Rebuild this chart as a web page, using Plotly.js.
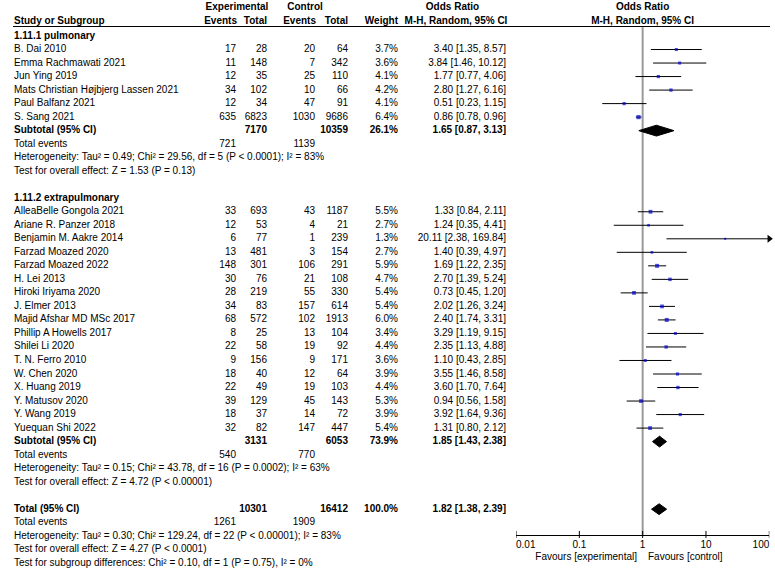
<!DOCTYPE html>
<html><head><meta charset="utf-8">
<script src="https://cdn.plot.ly/plotly-3.0.1.min.js"></script>
<style>html,body{margin:0;padding:0;background:#fff}#chart{width:775px;height:577px}</style>
</head><body><div id="chart"></div>
<script>
// ---------------- data ----------------
const groupTitles = ["1.11.1 pulmonary", "1.11.2 extrapulmonary"];

const studies1 = ["B. Dai 2010", "Emma Rachmawati 2021", "Jun Ying 2019",
  "Mats Christian Højbjerg Lassen 2021", "Paul Balfanz 2021", "S. Sang 2021"];
const expEvents1 = [17, 11, 12, 34, 12, 635];
const expTotal1 = [28, 148, 35, 102, 34, 6823];
const ctrlEvents1 = [20, 7, 25, 10, 47, 1030];
const ctrlTotal1 = [64, 342, 110, 66, 91, 9686];
const weight1 = [3.7, 3.6, 4.1, 4.2, 4.1, 6.4];
const or1 = [3.40, 3.84, 1.77, 2.80, 0.51, 0.86];
const lo1 = [1.35, 1.46, 0.77, 1.27, 0.23, 0.78];
const hi1 = [8.57, 10.12, 4.06, 6.16, 1.15, 0.96];

const studies2 = ["AlleaBelle Gongola 2021", "Ariane R. Panzer 2018", "Benjamin M. Aakre 2014",
  "Farzad Moazed 2020", "Farzad Moazed 2022", "H. Lei 2013", "Hiroki Iriyama 2020",
  "J. Elmer 2013", "Majid Afshar MD MSc 2017", "Phillip A Howells 2017", "Shilei Li 2020",
  "T. N. Ferro 2010", "W. Chen 2020", "X. Huang 2019", "Y. Matusov 2020", "Y. Wang 2019",
  "Yuequan Shi 2022"];
const expEvents2 = [33, 12, 6, 13, 148, 30, 28, 34, 68, 8, 22, 9, 18, 22, 39, 18, 32];
const expTotal2 = [693, 53, 77, 481, 301, 76, 219, 83, 572, 25, 58, 156, 40, 49, 129, 37, 82];
const ctrlEvents2 = [43, 4, 1, 3, 106, 21, 55, 157, 102, 13, 19, 9, 12, 19, 45, 14, 147];
const ctrlTotal2 = [1187, 21, 239, 154, 291, 108, 330, 614, 1913, 104, 92, 171, 64, 103, 143, 72, 447];
const weight2 = [5.5, 2.7, 1.3, 2.7, 5.9, 4.7, 5.4, 5.4, 6.0, 3.4, 4.4, 3.6, 3.9, 4.4, 5.3, 3.9, 5.4];
const or2 = [1.33, 1.24, 20.11, 1.40, 1.69, 2.70, 0.73, 2.02, 2.40, 3.29, 2.35, 1.10, 3.55, 3.60, 0.94, 3.92, 1.31];
const lo2 = [0.84, 0.35, 2.38, 0.39, 1.22, 1.39, 0.45, 1.26, 1.74, 1.19, 1.13, 0.43, 1.46, 1.70, 0.56, 1.64, 0.80];
const hi2 = [2.11, 4.41, 169.84, 4.97, 2.35, 5.24, 1.20, 3.24, 3.31, 9.15, 4.88, 2.85, 8.58, 7.64, 1.58, 9.36, 2.12];

// subtotal rows: [pulmonary, extrapulmonary]
const subExpTotal = [7170, 3131];
const subCtrlTotal = [10359, 6053];
const subWeight = [26.1, 73.9];
const subOR = [1.65, 1.85];
const subLo = [0.87, 1.43];
const subHi = [3.13, 2.38];
const subExpEvents = [721, 540];
const subCtrlEvents = [1139, 770];
const subHetero = [
  "Heterogeneity: Tau² = 0.49; Chi² = 29.56, df = 5 (P &lt; 0.0001); I² = 83%",
  "Heterogeneity: Tau² = 0.15; Chi² = 43.78, df = 16 (P = 0.0002); I² = 63%"];
const subTest = ["Test for overall effect: Z = 1.53 (P = 0.13)",
  "Test for overall effect: Z = 4.72 (P &lt; 0.00001)"];

// overall
const totExpTotal = 10301, totCtrlTotal = 16412, totWeight = 100.0;
const totOR = 1.82, totLo = 1.38, totHi = 2.39;
const totExpEvents = 1261, totCtrlEvents = 1909;
const totHetero = "Heterogeneity: Tau² = 0.30; Chi² = 129.24, df = 22 (P &lt; 0.00001); I² = 83%";
const totTest = "Test for overall effect: Z = 4.27 (P &lt; 0.0001)";
const subgroupTest = "Test for subgroup differences: Chi² = 0.10, df = 1 (P = 0.75), I² = 0%";

const tickVals = [0.01, 0.1, 1, 10, 100];
const tickText = ["0.01", "0.1", "1", "10", "100"];
const favourLeft = "Favours [experimental]";
const favourRight = "Favours [control]";

// ---------------- layout constants ----------------
const W = 775, H = 577;
const ROW0 = 36, ROWH = 13.52;
const yTop = -ROW0 / ROWH, yBot = (H - ROW0) / ROWH;
const FONT = "Liberation Sans, Arial, Helvetica, sans-serif";
const FS = 10;
const COLX = {study: 14, expEv: 236, expTot: 267, ctrlEv: 315, ctrlTot: 348, weight: 398, or: 506};
const AXIS_ROW = (535 - ROW0) / ROWH;
const RULE_ROW = (26.5 - ROW0) / ROWH;
const HDR1_ROW = (7.5 - ROW0) / ROWH, HDR2_ROW = (21 - ROW0) / ROWH;
const fx0 = 516, fx1 = 769.3;

// ---------------- build rows ----------------
const cols = {study: [], expEv: [], expTot: [], ctrlEv: [], ctrlTot: [], weight: [], or: []};
function put(col, r, t) { cols[col].push({y: r, t: String(t)}); }
const b = s => "<b>" + s + "</b>";
const f2 = v => v.toFixed(2);
const ciText = (o, l, h) => `${f2(o)} [${f2(l)}, ${f2(h)}]`;

const pts = [];
const diamonds = [];

const groups = [
  {names: studies1, ee: expEvents1, et: expTotal1, ce: ctrlEvents1, ct: ctrlTotal1, w: weight1, o: or1, l: lo1, h: hi1},
  {names: studies2, ee: expEvents2, et: expTotal2, ce: ctrlEvents2, ct: ctrlTotal2, w: weight2, o: or2, l: lo2, h: hi2}
];
let r = 0;
groups.forEach((g, gi) => {
  put("study", r, b(groupTitles[gi])); r++;
  g.names.forEach((n, i) => {
    put("study", r, n); put("expEv", r, g.ee[i]); put("expTot", r, g.et[i]);
    put("ctrlEv", r, g.ce[i]); put("ctrlTot", r, g.ct[i]);
    put("weight", r, g.w[i].toFixed(1) + "%"); put("or", r, ciText(g.o[i], g.l[i], g.h[i]));
    pts.push({r: r, o: g.o[i], l: g.l[i], h: g.h[i], w: g.w[i]});
    r++;
  });
  put("study", r, b("Subtotal (95% CI)")); put("expTot", r, b(subExpTotal[gi]));
  put("ctrlTot", r, b(subCtrlTotal[gi])); put("weight", r, b(subWeight[gi].toFixed(1) + "%"));
  put("or", r, b(ciText(subOR[gi], subLo[gi], subHi[gi])));
  diamonds.push({r: r, o: subOR[gi], l: subLo[gi], h: subHi[gi]}); r++;
  put("study", r, "Total events"); put("expEv", r, subExpEvents[gi]); put("ctrlEv", r, subCtrlEvents[gi]); r++;
  put("study", r, subHetero[gi]); r++;
  put("study", r, subTest[gi]); r++;
  r++;
});
put("study", r, b("Total (95% CI)")); put("expTot", r, b(totExpTotal)); put("ctrlTot", r, b(totCtrlTotal));
put("weight", r, b(totWeight.toFixed(1) + "%")); put("or", r, b(ciText(totOR, totLo, totHi)));
diamonds.push({r: r, o: totOR, l: totLo, h: totHi}); r++;
put("study", r, "Total events"); put("expEv", r, totExpEvents); put("ctrlEv", r, totCtrlEvents); r++;
put("study", r, totHetero); r++;
put("study", r, totTest); r++;
put("study", r, subgroupTest); r++;

// ---------------- traces ----------------
const txtFont = {family: FONT, size: FS, color: "#000"};
const traces = [];
function textTrace(xs, ys, ts, pos, xa) {
  return {type: "scatter", mode: "text", x: xs, y: ys, text: ts, textposition: pos,
    textfont: txtFont, xaxis: xa || "x", yaxis: "y", hoverinfo: "skip", showlegend: false, cliponaxis: false};
}
Object.keys(cols).forEach(k => {
  const c = cols[k];
  traces.push(textTrace(c.map(() => COLX[k]), c.map(d => d.y), c.map(d => d.t),
    k === "study" ? "middle right" : "middle left"));
});

// headers
const hdr1 = [{x: 237, t: "Experimental"}, {x: 305, t: "Control"}, {x: 452.5, t: "Odds Ratio"}, {x: 642.6, t: "Odds Ratio"}];
traces.push(textTrace(hdr1.map(d => d.x), hdr1.map(() => HDR1_ROW), hdr1.map(d => b(d.t)), "middle center"));
const hdr2c = [{x: 456, t: "M-H, Random, 95% CI"}, {x: 642.6, t: "M-H, Random, 95% CI"}];
traces.push(textTrace(hdr2c.map(d => d.x), hdr2c.map(() => HDR2_ROW), hdr2c.map(d => b(d.t)), "middle center"));
const hdr2r = [{x: 237, t: "Events"}, {x: 267, t: "Total"}, {x: 316, t: "Events"}, {x: 348, t: "Total"}, {x: 398, t: "Weight"}];
traces.push(textTrace(hdr2r.map(d => d.x), hdr2r.map(() => HDR2_ROW), hdr2r.map(d => b(d.t)), "middle left"));
traces.push(textTrace([COLX.study], [HDR2_ROW], [b("Study or Subgroup")], "middle right"));

// line of no effect
traces.push({type: "scatter", mode: "lines", x: [1, 1], y: [RULE_ROW, AXIS_ROW], xaxis: "x2", yaxis: "y",
  line: {color: "#9a9a9a", width: 2}, hoverinfo: "skip", showlegend: false});

// CI lines
const cx = [], cy = [];
pts.forEach(p => { cx.push(p.l, p.h, null); cy.push(p.r, p.r, null); });
traces.push({type: "scatter", mode: "lines", x: cx, y: cy, xaxis: "x2", yaxis: "y",
  line: {color: "#000", width: 1}, hoverinfo: "skip", showlegend: false});

// arrows for CIs beyond the axis
const axMax = Math.pow(10, 2);
const arR = pts.filter(p => p.h > axMax);
traces.push({type: "scatter", mode: "markers", x: arR.map(() => axMax), y: arR.map(p => p.r), xaxis: "x2", yaxis: "y",
  marker: {symbol: "triangle-right", size: 7, color: "#000"}, cliponaxis: false, hoverinfo: "skip", showlegend: false});

// study boxes
traces.push({type: "scatter", mode: "markers", x: pts.map(p => p.o), y: pts.map(p => p.r), xaxis: "x2", yaxis: "y",
  marker: {symbol: "square", size: pts.map(p => 1.6 + 0.4 * p.w), color: "#0000d0", line: {width: 0}},
  hoverinfo: "skip", showlegend: false});

// diamonds
diamonds.forEach(d => {
  const hh = 0.4;
  traces.push({type: "scatter", mode: "lines", x: [d.l, d.o, d.h, d.o, d.l], y: [d.r, d.r - hh, d.r, d.r + hh, d.r],
    xaxis: "x2", yaxis: "y", fill: "toself", fillcolor: "#000", line: {color: "#000", width: 1},
    hoverinfo: "skip", showlegend: false});
});

// axis tick marks crossing the axis line
const tx = [], ty = [];
tickVals.forEach(v => { tx.push(v, v, null); ty.push(AXIS_ROW - 0.3, AXIS_ROW + 0.22, null); });
traces.push({type: "scatter", mode: "lines", x: tx, y: ty, xaxis: "x2", yaxis: "y",
  line: {color: "#000", width: 1}, cliponaxis: false, hoverinfo: "skip", showlegend: false});

// tick labels
traces.push(textTrace(tickVals, tickVals.map(() => AXIS_ROW + 0.78), tickText,
  tickVals.map((v, i) => i === 0 ? "middle right" : (i === tickVals.length - 1 ? "middle left" : "middle center")), "x2"));
// favours labels
traces.push(textTrace([637], [AXIS_ROW + 1.68], [favourLeft], "middle left"));
traces.push(textTrace([648], [AXIS_ROW + 1.68], [favourRight], "middle right"));

const axisPos = 1 - (ROW0 + ROWH * AXIS_ROW) / H;

const layout = {
  width: W, height: H, margin: {l: 0, r: 0, t: 0, b: 0, pad: 0},
  paper_bgcolor: "#fff", plot_bgcolor: "rgba(0,0,0,0)", showlegend: false,
  font: {family: FONT, size: FS, color: "#000"},
  xaxis: {range: [0, W], domain: [0, 1], visible: false, fixedrange: true},
  xaxis2: {type: "log", range: [-2, 2], domain: [fx0 / W, fx1 / W], anchor: "free", position: axisPos,
    showline: true, linecolor: "#000", linewidth: 1, showgrid: false, zeroline: false,
    showticklabels: false, ticks: "", fixedrange: true},
  yaxis: {range: [yBot, yTop], domain: [0, 1], visible: false, fixedrange: true},
  shapes: [{type: "line", xref: "x", yref: "y", x0: 13, x1: 770, y0: RULE_ROW, y1: RULE_ROW,
    line: {color: "#000", width: 1}}]
};

Plotly.newPlot("chart", traces, layout, {staticPlot: true, displayModeBar: false});
</script>
</body></html>
